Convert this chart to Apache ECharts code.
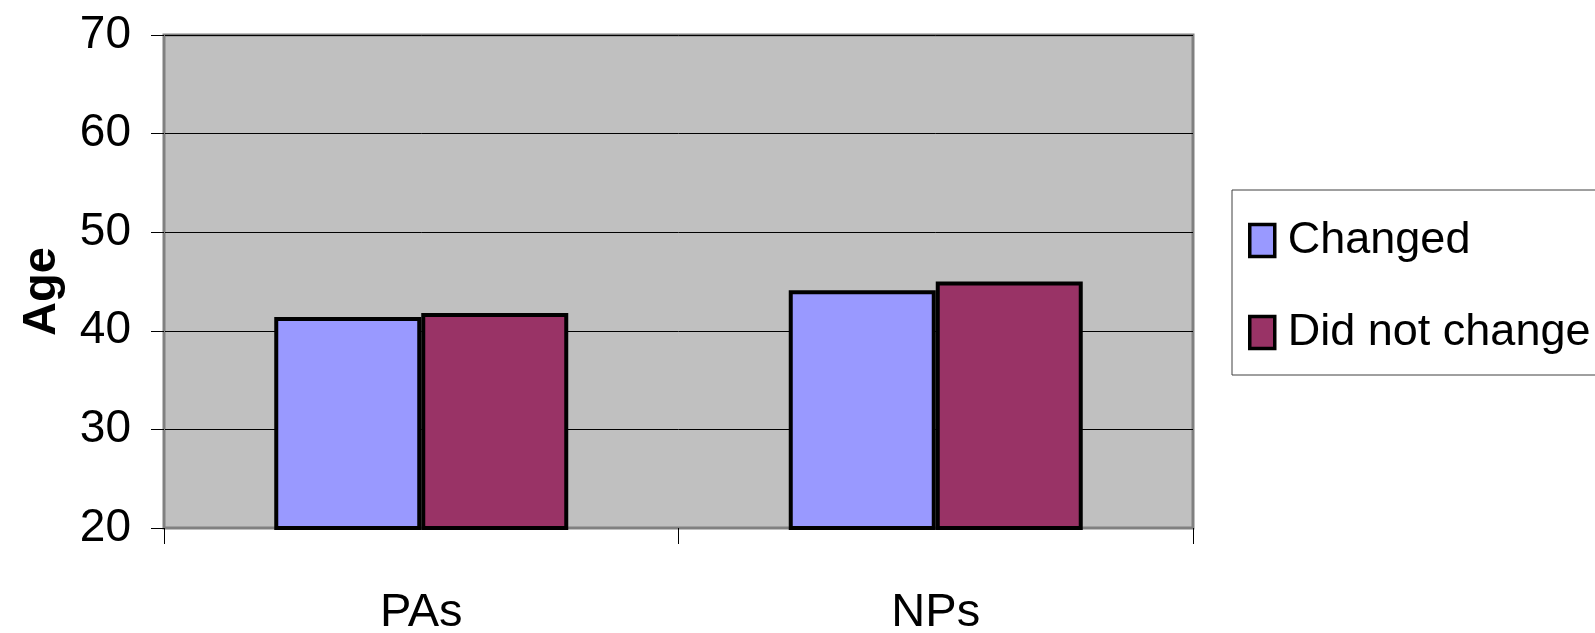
<!DOCTYPE html>
<html>
<head>
<meta charset="utf-8">
<script src="https://cdn.jsdelivr.net/npm/echarts@6/dist/echarts.min.js"></script>
<style>
  html, body { margin: 0; padding: 0; background: #ffffff; }
  #chart { width: 1595px; height: 633px; }
</style>
</head>
<body>
<div id="chart"></div>
<script>
// Mean age by provider type, split by whether they changed
const categories = ['PAs', 'NPs'];
const changed = [41.4, 44.1];
const didNotChange = [41.8, 45.0];
const seriesNames = ['Changed', 'Did not change'];
const yTicks = { min: 20, max: 70, step: 10 };

const FONT = '"Liberation Sans", Arial, sans-serif';

const chart = echarts.init(document.getElementById('chart'), null, { renderer: 'canvas' });

chart.setOption({
  backgroundColor: '#ffffff',
  animation: false,
  grid: {
    left: 164,
    right: 402,
    top: 35,
    bottom: 105,
    outerBoundsMode: 'none',
    containLabel: false,
    show: true,
    backgroundColor: '#C0C0C0',
    borderColor: '#808080',
    borderWidth: 3
  },
  legend: {
    orient: 'vertical',
    left: 1232,
    top: 190,
    padding: [28, 40, 20, 16],
    itemGap: 47,
    itemWidth: 25,
    itemHeight: 32,
    backgroundColor: '#ffffff',
    borderColor: '#404040',
    borderWidth: 1,
    borderRadius: 0,
    icon: 'rect',
    itemStyle: { borderColor: '#000000', borderWidth: 3.5 },
    textStyle: {
      fontFamily: FONT,
      fontSize: 45,
      color: '#000000',
      padding: [0, 0, 0, 8]
    },
    data: seriesNames
  },
  xAxis: {
    type: 'category',
    data: categories,
    boundaryGap: true,
    axisLine: { show: true, lineStyle: { color: '#808080', width: 2 } },
    axisTick: { show: true, length: 16, lineStyle: { color: '#000000', width: 1 } },
    axisLabel: {
      fontFamily: FONT,
      fontSize: 47,
      color: '#000000',
      margin: 62
    },
    splitLine: { show: false }
  },
  yAxis: {
    type: 'value',
    min: yTicks.min,
    max: yTicks.max,
    interval: yTicks.step,
    name: 'Age',
    nameLocation: 'middle',
    nameRotate: 90,
    nameGap: 98,
    nameTextStyle: {
      fontFamily: FONT,
      fontSize: 47,
      fontWeight: 'bold',
      color: '#000000',
      padding: [0, 20, 0, 0]
    },
    axisLine: { show: true, lineStyle: { color: '#808080', width: 2 } },
    axisTick: { show: true, length: 13, lineStyle: { color: '#000000', width: 1 } },
    axisLabel: {
      fontFamily: FONT,
      fontSize: 46,
      color: '#000000',
      margin: 33
    },
    splitLine: { show: true, lineStyle: { color: '#000000', width: 1 } }
  },
  series: [
    {
      name: seriesNames[0],
      type: 'bar',
      data: changed,
      barWidth: 147,
      barGap: '0%',
      itemStyle: { color: '#9999FF', borderColor: '#000000', borderWidth: 4 }
    },
    {
      name: seriesNames[1],
      type: 'bar',
      data: didNotChange,
      barWidth: 147,
      barGap: '0%',
      itemStyle: { color: '#993366', borderColor: '#000000', borderWidth: 4 }
    }
  ]
});
</script>
</body>
</html>
